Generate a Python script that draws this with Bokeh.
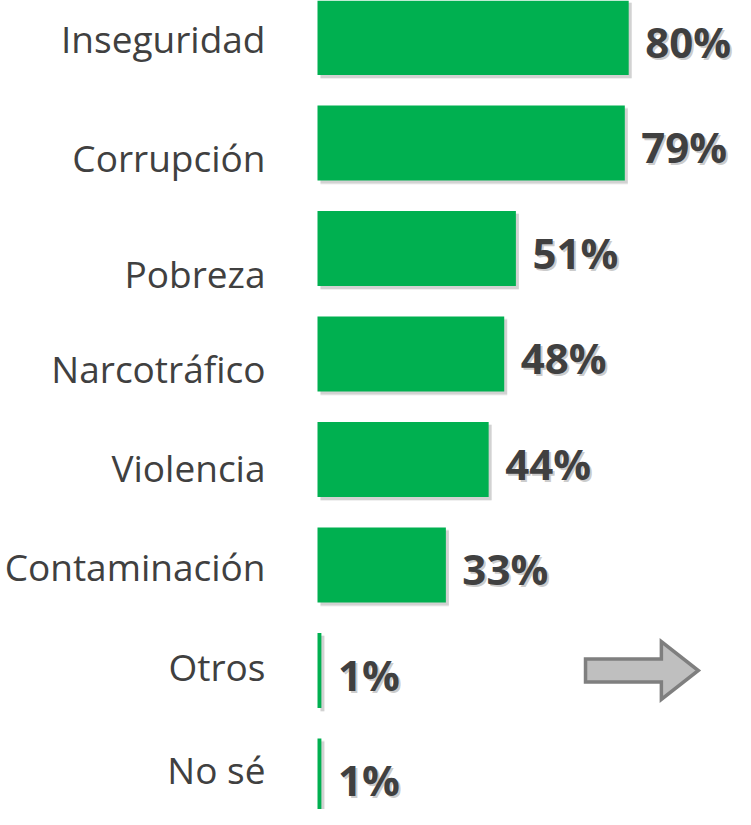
from bokeh.plotting import figure
from bokeh.models import Range1d, ColumnDataSource
from bokeh.core.properties import value
from bokeh.embed import file_html
from bokeh.resources import INLINE

# ---- data ----
categories = ["Inseguridad", "Corrupción", "Pobreza", "Narcotráfico",
              "Violencia", "Contaminación", "Otros", "No sé"]
values = [80, 79, 51, 48, 44, 33, 1, 1]
value_labels = [f"{v}%" for v in values]

# ---- layout / style ----
PX_PER_UNIT_X = 3.89      # pixels per percentage point
PX_PER_ROW = 105.5        # pixels per row
W, H = 735, 809
ZERO_PX = 317             # x pixel of 0 inside the plot
FIRST_ROW_PX = 37         # y pixel of first bar centre inside the plot
BAR_H = 75 / PX_PER_ROW
GREEN = "#00B050"
TEXT = "#404040"
# per-label vertical nudges of category text (px, relative to bar centre)
label_dy = [1, 14, 25, 14, 8, 1, -4, -7]

rows = list(range(len(categories)))
x0 = -ZERO_PX / PX_PER_UNIT_X
x1 = (W - ZERO_PX) / PX_PER_UNIT_X
y_top = -FIRST_ROW_PX / PX_PER_ROW
y_bot = (H - FIRST_ROW_PX) / PX_PER_ROW

p = figure(width=W, height=H, output_backend="svg", toolbar_location=None,
           x_range=Range1d(x0, x1), y_range=Range1d(y_bot, y_top),
           min_border=0, min_border_left=0, min_border_right=0,
           min_border_top=0, min_border_bottom=0)
p.axis.visible = False
p.grid.visible = False
p.outline_line_color = None
p.background_fill_color = "white"
p.border_fill_color = "white"

src = ColumnDataSource(dict(
    y=rows, v=values, lab=value_labels, cat=categories,
    ys=[r + 3 / PX_PER_ROW for r in rows],
    vs=[v + 3 / PX_PER_UNIT_X for v in values],
    zero=[0] * len(rows),
    zs=[3 / PX_PER_UNIT_X] * len(rows),
    ldy=label_dy,
))

# bar shadow
p.hbar(y="ys", left="zs", right="vs", height=BAR_H, source=src,
       fill_color="#9a9a9a", fill_alpha=0.35, line_color=None)
p.hbar(y="ys", left="zs", right="vs", height=BAR_H + 2 / PX_PER_ROW, source=src,
       fill_color="#9a9a9a", fill_alpha=0.15, line_color=None)
# bars
p.hbar(y="y", left="zero", right="v", height=BAR_H, source=src,
       fill_color=GREEN, line_color=None)

# category labels
p.text(x="zero", y="y", text="cat", source=src, x_offset=-52, y_offset="ldy",
       text_align="right", text_baseline="middle",
       text_font=value("Open Sans"), text_font_size="37px", text_color=TEXT)

# value labels with shadow
p.text(x="v", y="y", text="lab", source=src, x_offset=18.5, y_offset=5.5,
       text_align="left", text_baseline="middle",
       text_font=value("Open Sans"), text_font_style="bold",
       text_font_size="42px", text_color="#8c8c8c", text_alpha=0.45)
p.text(x="v", y="y", text="lab", source=src, x_offset=16.5, y_offset=3.5,
       text_align="left", text_baseline="middle",
       text_font=value("Open Sans"), text_font_style="bold",
       text_font_size="42px", text_color=TEXT)

# decorative arrow next to "Otros"
ARROW_ROW = 6
ax_left, ax_neck, ax_tip = 68.9, 88.4, 97.9
shaft_half, head_half = 11.5 / PX_PER_ROW, 29 / PX_PER_ROW
p.patch(x=[ax_left, ax_neck, ax_neck, ax_tip, ax_neck, ax_neck, ax_left],
        y=[ARROW_ROW - shaft_half, ARROW_ROW - shaft_half, ARROW_ROW - head_half,
           ARROW_ROW, ARROW_ROW + head_half, ARROW_ROW + shaft_half,
           ARROW_ROW + shaft_half],
        fill_color="#BFBFBF", line_color="#7F7F7F", line_width=3.5,
        line_join="miter")

open("out.html", "w").write(file_html(p, INLINE))
